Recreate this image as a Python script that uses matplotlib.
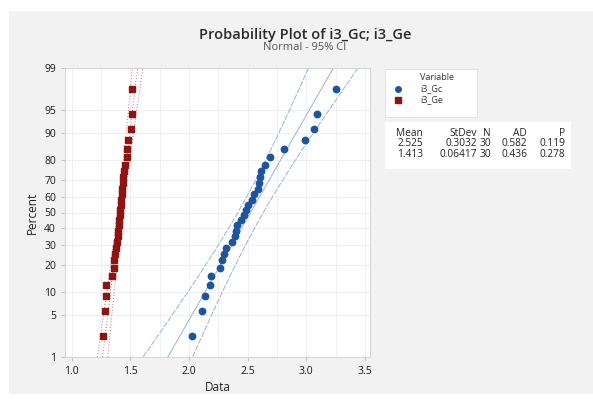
import numpy as np
import matplotlib
matplotlib.use("Agg")
import matplotlib.pyplot as plt
from matplotlib.patches import Rectangle
from statistics import NormalDist

plt.rcParams['font.family'] = ['Open Sans', 'DejaVu Sans']

# values (sorted, 30 each)
gc_values = [2.027, 2.110, 2.135, 2.180, 2.186, 2.265, 2.285, 2.302, 2.314, 2.365,
             2.396, 2.402, 2.408, 2.440, 2.465, 2.488, 2.507, 2.533, 2.556, 2.585,
             2.598, 2.607, 2.610, 2.644, 2.692, 2.811, 2.988, 3.067, 3.090, 3.255]
ge_values = [1.270, 1.285, 1.290, 1.290, 1.344, 1.361, 1.364, 1.372, 1.378, 1.387,
             1.392, 1.398, 1.403, 1.406, 1.412, 1.415, 1.418, 1.420, 1.427, 1.430,
             1.435, 1.440, 1.449, 1.454, 1.469, 1.469, 1.477, 1.506, 1.514, 1.511]

series_names = ["i3_Gc", "i3_Ge"]
means = [2.525, 1.413]
stdevs = [0.3032, 0.06417]
counts = [30, 30]
ad_values = ["0.582", "0.436"]
p_values = ["0.119", "0.278"]
mean_labels = ["2.525", "1.413"]
stdev_labels = ["0.3032", "0.06417"]

pct_ticks = [1, 5, 10, 20, 30, 40, 50, 60, 70, 80, 90, 95, 99]
x_ticks = [1.0, 1.5, 2.0, 2.5, 3.0, 3.5]

nd = NormalDist()


def z_of(p):
    return nd.inv_cdf(p)


fig = plt.figure(figsize=(5.93, 4.0), dpi=100, facecolor='white')
fig.patches.append(Rectangle((9 / 593, 6 / 400), 584 / 593, 383 / 400,
                             transform=fig.transFigure, facecolor='#f2f2f2',
                             edgecolor='none', zorder=-10))

ax = fig.add_axes([65 / 593, 43 / 400, 305 / 593, 289 / 400], zorder=5)
ax.set_facecolor('white')

zmin, zmax = z_of(0.01), z_of(0.99)
ax.set_ylim(zmin, zmax)
ax.set_xlim(0.943, 3.543)

# faint grid
for xv in np.arange(1.0, 3.51, 0.25):
    ax.axvline(xv, color='#eeeeee', lw=0.6, zorder=0)
for p in pct_ticks[1:-1]:
    ax.axhline(z_of(p / 100), color='#eeeeee', lw=0.6, zorder=0)

zz = np.linspace(zmin, zmax, 100)
colors = ['#1d549e', '#8e1414']
line_cols = ['#95b4dc', '#b84444']
markers = ['o', 's']
msizes = [4.6, 5.0]

for k, vals in enumerate([gc_values, ge_values]):
    n = counts[k]
    vals = sorted(vals)
    ranks = np.arange(1, n + 1)
    zs = [z_of((r - 0.3) / (n + 0.4)) for r in ranks]
    mu, sd = means[k], stdevs[k]
    fit = mu + sd * zz
    half = 1.96 * sd * np.sqrt(1 / n + zz ** 2 / (2 * (n - 1)))
    if k == 0:
        ax.plot(fit, zz, color=line_cols[k], lw=0.7, zorder=2)
        ax.plot(fit - half, zz, color=line_cols[k], lw=0.7, ls=(0, (6, 1.5)), zorder=2)
        ax.plot(fit + half, zz, color=line_cols[k], lw=0.7, ls=(0, (6, 1.5)), zorder=2)
    else:
        ax.plot(fit, zz, color=line_cols[k], lw=0.6, ls=(0, (1, 2.5)), zorder=2)
        ax.plot(fit - half, zz, color=line_cols[k], lw=0.6, ls=(0, (1, 2.5)), zorder=2)
        ax.plot(fit + half, zz, color=line_cols[k], lw=0.6, ls=(0, (1, 2.5)), zorder=2)
    ax.plot(vals, zs, ls='none', marker=markers[k], ms=msizes[k], color=colors[k],
            mec=colors[k], zorder=3)

ax.set_yticks([z_of(p / 100) for p in pct_ticks])
ax.set_yticklabels([str(p) for p in pct_ticks])
ax.set_xticks(x_ticks)
ax.set_xticklabels([f"{v:.1f}" for v in x_ticks])
ax.tick_params(axis='both', labelsize=7.5, colors='#bbbbbb', labelcolor='#1a1a1a',
               length=3, width=0.6)
for s in ax.spines.values():
    s.set_color('#d6d6d6')
    s.set_linewidth(0.8)

ax.set_xlabel("Data", fontsize=8.5, color='#222222', labelpad=3)
ax.set_ylabel("Percent", fontsize=8.5, color='#222222', labelpad=4)

fig.text(305 / 593, 1 - 35 / 400, "Probability Plot of i3_Gc; i3_Ge", ha='center',
         va='center', fontsize=10.5, fontweight='semibold', color='#2a2a2a')
fig.text(305 / 593, 1 - 48 / 400, "Normal - 95% CI", ha='center', va='center',
         fontsize=8, color='#555555')

# legend box
fig.patches.append(Rectangle((385 / 593, 1 - 117 / 400), 92 / 593, 48 / 400,
                             transform=fig.transFigure, facecolor='white',
                             edgecolor='#e0e0e0', lw=0.6, zorder=1))
fig.text(420 / 593, 1 - 77 / 400, "Variable", fontsize=6.5, color='#333333',
         va='center')
for k, name in enumerate(series_names):
    yy = 1 - (89 + 11 * k) / 400
    fig.lines.append(plt.Line2D([398 / 593], [yy], transform=fig.transFigure,
                                marker=markers[k], ms=4, color=colors[k], ls='none'))
    fig.text(420 / 593, yy, name, fontsize=6.5, color='#333333', va='center')

# statistics table
fig.patches.append(Rectangle((385 / 593, 1 - 169 / 400), 186 / 593, 47 / 400,
                             transform=fig.transFigure, facecolor='white',
                             edgecolor='none', zorder=1))
col_x = [423, 477, 491, 527, 565]
header = ["Mean", "StDev", "N", "AD", "P"]
rows = [header]
for k in range(2):
    rows.append([mean_labels[k], stdev_labels[k], str(counts[k]), ad_values[k], p_values[k]])
for r, row in enumerate(rows):
    yy = 1 - (133 + 11 * r) / 400
    for c, txt in enumerate(row):
        fig.text(col_x[c] / 593, yy, txt, fontsize=7.3, color='#222222',
                 ha='right', va='center')

fig.savefig("out.png", dpi=100, facecolor=fig.get_facecolor())
